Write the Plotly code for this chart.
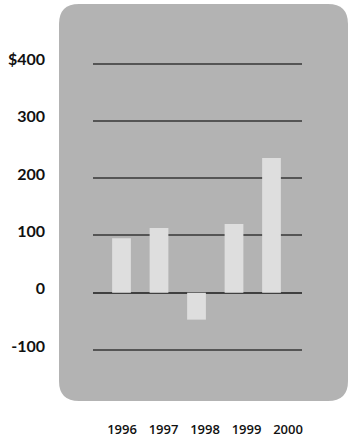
import plotly.graph_objects as go

# Annual values (in dollars)
years = ["1996", "1997", "1998", "1999", "2000"]
values = [95, 113, -47, 120, 235]

# Y-axis ticks
y_ticks = [-100, 0, 100, 200, 300, 400]
y_tick_text = ["-100", "0", "100", "200", "300", "$400"]

W, H = 349, 439
L, R, T, B = 93, 47, 4, 38
plot_w = W - L - R
plot_h = H - T - B

# Rounded panel behind the plot, expressed in paper coordinates
px_to_x = 1.0 / plot_w
px_to_y = 1.0 / plot_h
x0, x1 = (59 - L) * px_to_x, (348 - L) * px_to_x
y0, y1 = 0.0, 1.0
rx, ry = 20 * px_to_x, 20 * px_to_y
panel_path = (
    f"M {x0 + rx},{y1} L {x1 - rx},{y1} Q {x1},{y1} {x1},{y1 - ry} "
    f"L {x1},{y0 + ry} Q {x1},{y0} {x1 - rx},{y0} "
    f"L {x0 + rx},{y0} Q {x0},{y0} {x0},{y0 + ry} "
    f"L {x0},{y1 - ry} Q {x0},{y1} {x0 + rx},{y1} Z"
)

fig = go.Figure()
fig.add_trace(go.Bar(
    x=years, y=values,
    marker=dict(color="#dedede", line=dict(width=0)),
    width=0.5,
    hoverinfo="skip",
))

fig.update_layout(
    width=W, height=H,
    margin=dict(l=L, r=R, t=T, b=B, pad=0, autoexpand=False),
    paper_bgcolor="white",
    plot_bgcolor="rgba(0,0,0,0)",
    showlegend=False,
    bargap=0.5,
    shapes=[dict(type="path", path=panel_path, xref="paper", yref="paper",
                 fillcolor="#b3b3b3", line=dict(width=0), layer="below")],
    xaxis=dict(
        type="category",
        range=[-0.76, 4.813],
        showticklabels=False,
        showgrid=False, zeroline=False, showline=False, ticks="",
        automargin=False, fixedrange=True,
    ),
    xaxis2=dict(
        overlaying="x", anchor="y", side="bottom",
        range=[-0.699, 4.337],
        tickmode="array", tickvals=[0, 1, 2, 3, 4], ticktext=years,
        showgrid=False, zeroline=False, showline=False, ticks="",
        ticklabelstandoff=19,
        tickfont=dict(family="Open Sans", size=13, color="#111111", weight=600),
        automargin=False, fixedrange=True,
    ),
    yaxis=dict(
        range=[-189, 504],
        tickmode="array", tickvals=y_ticks, ticktext=y_tick_text,
        showgrid=True, gridcolor="#555555", gridwidth=1.5,
        zeroline=True, zerolinecolor="#404040", zerolinewidth=2,
        showline=False, ticks="",
        ticklabelstandoff=47, ticklabelshift=-4,
        tickfont=dict(family="Lato", size=16, color="#111111", weight=700),
        automargin=False, fixedrange=True,
    ),
)

# Invisible point so the label axis is rendered
fig.add_trace(go.Scatter(x=[0], y=[0], xaxis="x2", mode="markers",
                         marker=dict(opacity=0), hoverinfo="skip"))

fig.write_html("out.html")
